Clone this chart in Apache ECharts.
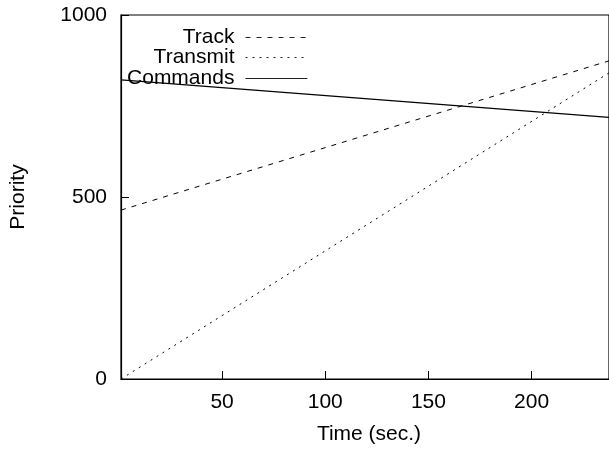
<!DOCTYPE html>
<html>
<head>
  <meta charset="utf-8">
  <title>Priority</title>
  <script src="https://cdn.jsdelivr.net/npm/echarts@6/dist/echarts.min.js"></script>
  <style>
    body { margin: 0; }
  </style>
</head>
<body>
  <div id="main" style="width:609px;height:450px;"></div>
  <script type="text/javascript">
    // data
    var time = [1, 237.5];
    var track = [464, 874];
    var transmit = [0, 841];
    var commands = [822, 719];
    var xTicks = [50, 100, 150, 200];
    var seriesNames = ['Track', 'Transmit', 'Commands'];

    var myChart = echarts.init(document.getElementById('main'));

    function pairs(xs, ys) {
      return xs.map(function (x, i) { return [x, ys[i]]; });
    }

    var font = 'Liberation Sans, Arial, sans-serif';
    var fs = 21;
    var styles = [
      { type: [5, 6], width: 1 },
      { type: [2, 5], width: 1 },
      { type: 'solid', width: 1.2 }
    ];
    var values = [track, transmit, commands];

    var option = {
      animation: false,
      textStyle: { fontFamily: font },
      grid: {
        left: 121, top: 15, right: -3, bottom: 69,
        show: true, borderColor: '#000', borderWidth: 1.2
      },
      legend: seriesNames.map(function (n, i) {
        return {
          data: [n],
          right: 301,
          top: [27, 47, 68][i],
          align: 'right',
          itemWidth: 62,
          itemHeight: 14,
          padding: 0,
          itemStyle: { opacity: 0 },
          lineStyle: { width: styles[i].width, type: styles[i].type, color: '#222' },
          textStyle: { fontSize: fs, color: '#000', fontFamily: font, padding: [0, 6, 0, 0] }
        };
      }),
      xAxis: {
        type: 'value',
        min: 1,
        max: 237.5,
        name: 'Time (sec.)',
        nameLocation: 'middle',
        nameGap: 45,
        nameTextStyle: { fontSize: fs, color: '#000', padding: [0, 0, 0, 8] },
        axisLine: { show: true, lineStyle: { color: '#000', width: 1.2 } },
        axisTick: { show: true, inside: true, length: 8, customValues: xTicks, lineStyle: { color: '#000' } },
        axisLabel: { customValues: xTicks, fontSize: fs, color: '#000', margin: 13 },
        splitLine: { show: false }
      },
      yAxis: {
        type: 'value',
        min: 0,
        max: 1000,
        interval: 500,
        name: 'Priority',
        nameLocation: 'middle',
        nameGap: 92,
        nameTextStyle: { fontSize: fs, color: '#000' },
        axisLine: { show: true, lineStyle: { color: '#000', width: 1.2 } },
        axisTick: { show: true, inside: true, length: 8, lineStyle: { color: '#000' } },
        axisLabel: { fontSize: fs, color: '#000', margin: 14, formatter: function (v) { return String(v); } },
        splitLine: { show: false }
      },
      series: seriesNames.map(function (n, i) {
        return {
          name: n,
          type: 'line',
          symbol: 'none',
          data: pairs(time, values[i]),
          lineStyle: { color: '#000', type: styles[i].type, width: styles[i].width },
          itemStyle: { color: '#000' }
        };
      })
    };

    myChart.setOption(option);
  </script>
</body>
</html>
